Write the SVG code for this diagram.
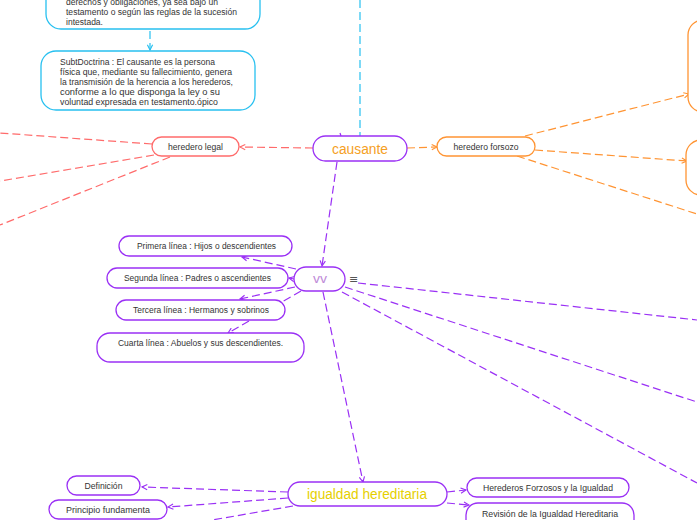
<svg xmlns="http://www.w3.org/2000/svg" width="697" height="520" viewBox="0 0 697 520">
<style>
.t{font-family:"Liberation Sans",Arial,sans-serif;font-size:8.5px;fill:#333;}
.c{stroke:#27c0f0;}
.s{stroke:#ff6b6b;}
.o{stroke:#ff9433;}
.p{stroke:#9a30f5;}
.ln{fill:none;stroke-width:1.2;stroke-dasharray:8 4;}
.nd{fill:#fff;stroke-width:1.3;}
</style>
<defs>
<marker id="ac" viewBox="0 0 8 8" refX="7" refY="4" markerWidth="7" markerHeight="7" markerUnits="userSpaceOnUse" orient="auto"><path d="M1,1 L7,4 L1,7" fill="none" stroke="#27c0f0" stroke-width="1.3"/></marker>
<marker id="as" viewBox="0 0 8 8" refX="7" refY="4" markerWidth="7" markerHeight="7" markerUnits="userSpaceOnUse" orient="auto"><path d="M1,1 L7,4 L1,7" fill="none" stroke="#ff6b6b" stroke-width="1.3"/></marker>
<marker id="ao" viewBox="0 0 8 8" refX="7" refY="4" markerWidth="7" markerHeight="7" markerUnits="userSpaceOnUse" orient="auto"><path d="M1,1 L7,4 L1,7" fill="none" stroke="#ff9433" stroke-width="1.3"/></marker>
<marker id="ap" viewBox="0 0 8 8" refX="7" refY="4" markerWidth="7" markerHeight="7" markerUnits="userSpaceOnUse" orient="auto"><path d="M1,1 L7,4 L1,7" fill="none" stroke="#9a30f5" stroke-width="1.3"/></marker>
</defs>
<rect width="697" height="520" fill="#fff"/>
<g id="connectors">
<path class="ln c" d="M360,0 L360,136"/>
<path class="ln c" d="M150,31 L150,50" marker-end="url(#ac)"/>
<path class="ln s" d="M313,148 L240,147" marker-end="url(#as)"/>
<path class="ln s" d="M152,144 L0,133"/>
<path class="ln s" d="M154,155 L0,181"/>
<path class="ln s" d="M170,157 L0,225"/>
<path class="ln o" d="M407,148 L437,147" marker-end="url(#ao)"/>
<path class="ln o" d="M525,136 L689,94" marker-end="url(#ao)"/>
<path class="ln o" d="M535,150 L687,161" marker-end="url(#ao)"/>
<path class="ln o" d="M517,156 L697,214"/>
<path class="ln p" d="M340,133 L341,136"/>
<path class="ln p" d="M337,162 L322,266" marker-end="url(#ap)"/>
<path class="ln p" d="M296,269 L242,257" marker-end="url(#ap)"/>
<path class="ln p" d="M294,279 L289,278" marker-end="url(#ap)"/>
<path class="ln p" d="M295,287 L240,299" marker-end="url(#ap)"/>
<path class="ln p" d="M301,291 L228,333" marker-end="url(#ap)"/>
<path class="ln p" d="M358,283 L697,320"/>
<path class="ln p" d="M345,287 L697,402"/>
<path class="ln p" d="M342,292 L697,483"/>
<path class="ln p" d="M323,292 L363,482" marker-end="url(#ap)"/>
<path class="ln p" d="M288,492 L142,487" marker-end="url(#ap)"/>
<path class="ln p" d="M288,498 L168,507" marker-end="url(#ap)"/>
<path class="ln p" d="M293,506 L212,520"/>
<path class="ln p" d="M447,492 L466,490" marker-end="url(#ap)"/>
<path class="ln p" d="M447,503 L469,505" marker-end="url(#ap)"/>
</g>
<g id="node-definicion-herencia">
<rect class="nd c" x="46" y="-40" width="214" height="69" rx="15"/>
<text class="t" x="66" y="5" textLength="152" lengthAdjust="spacingAndGlyphs">derechos y obligaciones, ya sea bajo un</text>
<text class="t" x="66" y="15" textLength="171" lengthAdjust="spacingAndGlyphs">testamento o según las reglas de la sucesión</text>
<text class="t" x="66" y="25" textLength="37" lengthAdjust="spacingAndGlyphs">intestada.</text>
</g>
<g id="node-subtdoctrina">
<rect class="nd c" x="41" y="51" width="214" height="59" rx="15"/>
<text class="t" x="60" y="65" textLength="155" lengthAdjust="spacingAndGlyphs">SubtDoctrina : El causante es la persona</text>
<text class="t" x="60" y="75" textLength="172" lengthAdjust="spacingAndGlyphs">física que, mediante su fallecimiento, genera</text>
<text class="t" x="60" y="85" textLength="173" lengthAdjust="spacingAndGlyphs">la transmisión de la herencia a los herederos,</text>
<text class="t" x="60" y="95" textLength="160" lengthAdjust="spacingAndGlyphs">conforme a lo que disponga la ley o su</text>
<text class="t" x="60" y="105" textLength="158" lengthAdjust="spacingAndGlyphs">voluntad expresada en testamento.ópico</text>
</g>
<g id="node-causante">
<rect class="nd p" x="313" y="136" width="94" height="25" rx="12.5"/>
<text x="360" y="154" text-anchor="middle" font-family="'Liberation Sans',Arial,sans-serif" font-size="14" fill="#f5a024" textLength="56" lengthAdjust="spacingAndGlyphs">causante</text>
</g>
<g id="node-heredero-legal">
<rect class="nd s" x="152" y="137" width="87" height="19" rx="9.5"/>
<text class="t" x="195.5" y="150" text-anchor="middle" textLength="55" lengthAdjust="spacingAndGlyphs">heredero legal</text>
</g>
<g id="node-heredero-forsozo">
<rect class="nd o" x="437" y="137" width="98" height="19" rx="9.5"/>
<text class="t" x="486" y="150" text-anchor="middle" textLength="65" lengthAdjust="spacingAndGlyphs">heredero forsozo</text>
</g>
<g id="node-forsozo-a">
<rect class="nd o" x="688" y="20" width="40" height="92" rx="15"/>
</g>
<g id="node-forsozo-b">
<rect class="nd o" x="686" y="140" width="40" height="55" rx="15"/>
</g>
<g id="node-vv">
<rect class="nd p" x="294" y="267" width="51" height="24" rx="12"/>
<text x="320" y="283" text-anchor="middle" font-family="'Liberation Sans',Arial,sans-serif" font-size="12" fill="#c08ad8" textLength="14" lengthAdjust="spacingAndGlyphs">vv</text>
<text x="353.5" y="283" text-anchor="middle" font-family="'DejaVu Sans',sans-serif" font-size="11" fill="#555">≡</text>
</g>
<g id="node-primera">
<rect class="nd p" x="119" y="236" width="173" height="20" rx="10"/>
<text class="t" x="206.5" y="249" text-anchor="middle" textLength="139" lengthAdjust="spacingAndGlyphs">Primera línea : Hijos o descendientes</text>
</g>
<g id="node-segunda">
<rect class="nd p" x="107" y="268" width="181" height="20" rx="10"/>
<text class="t" x="197.5" y="281" text-anchor="middle" textLength="147" lengthAdjust="spacingAndGlyphs">Segunda línea : Padres o ascendientes</text>
</g>
<g id="node-tercera">
<rect class="nd p" x="116" y="300" width="169" height="20" rx="10"/>
<text class="t" x="201" y="313" text-anchor="middle" textLength="136" lengthAdjust="spacingAndGlyphs">Tercera línea : Hermanos y sobrinos</text>
</g>
<g id="node-cuarta">
<rect class="nd p" x="97" y="333" width="207" height="29" rx="13"/>
<text class="t" x="200.5" y="346" text-anchor="middle" textLength="165" lengthAdjust="spacingAndGlyphs">Cuarta línea : Abuelos y sus descendientes.</text>
</g>
<g id="node-igualdad">
<rect class="nd p" x="288" y="482" width="159" height="24" rx="12"/>
<text x="367" y="499" text-anchor="middle" font-family="'Liberation Sans',Arial,sans-serif" font-size="14" fill="#e6d000" textLength="120" lengthAdjust="spacingAndGlyphs">igualdad hereditaria</text>
</g>
<g id="node-definicion">
<rect class="nd p" x="67" y="476" width="73" height="19" rx="9.5"/>
<text class="t" x="103.5" y="489" text-anchor="middle" textLength="38" lengthAdjust="spacingAndGlyphs">Definición</text>
</g>
<g id="node-principio">
<rect class="nd p" x="49" y="500" width="118" height="19" rx="9.5"/>
<text class="t" x="108" y="513" text-anchor="middle" textLength="84" lengthAdjust="spacingAndGlyphs">Principio fundamenta</text>
</g>
<g id="node-herederos-forzosos">
<rect class="nd p" x="467" y="478" width="162" height="19" rx="9.5"/>
<text class="t" x="548" y="491" text-anchor="middle" textLength="130" lengthAdjust="spacingAndGlyphs">Herederos Forzosos y la Igualdad</text>
</g>
<g id="node-revision">
<rect class="nd p" x="466" y="503" width="168" height="30" rx="12"/>
<text class="t" x="550" y="517" text-anchor="middle" textLength="136" lengthAdjust="spacingAndGlyphs">Revisión de la Igualdad Hereditaria</text>
</g>
</svg>
